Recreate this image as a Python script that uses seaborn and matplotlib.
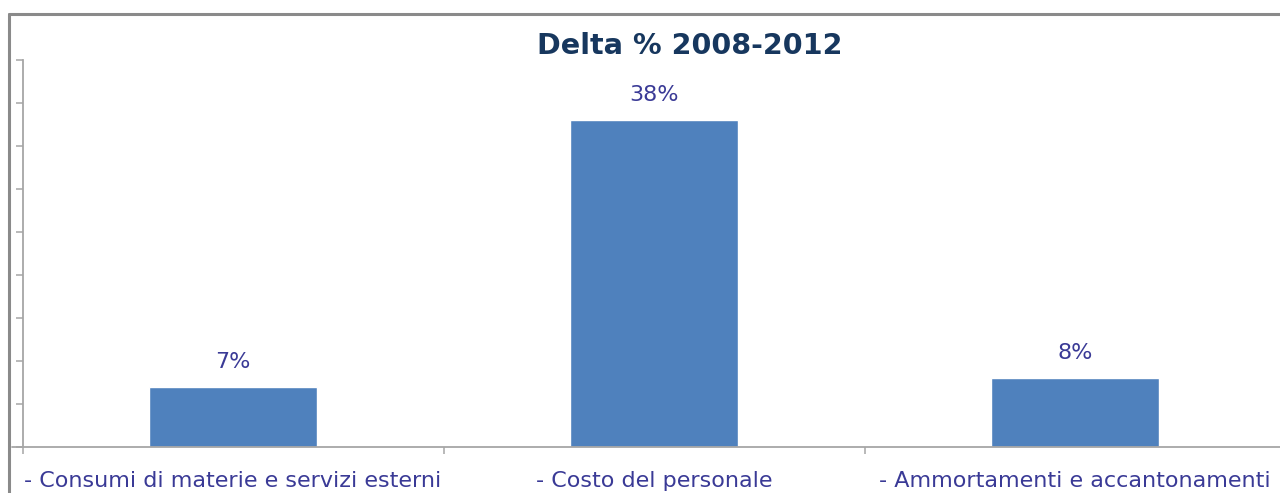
import matplotlib
matplotlib.use("Agg")
import matplotlib.pyplot as plt
from matplotlib.lines import Line2D
import seaborn as sns
import pandas as pd

# Variazione percentuale 2008-2012 per voce di costo
categories = [
    "- Consumi di materie e servizi esterni",
    "- Costo del personale",
    "- Ammortamenti e accantonamenti",
]
delta_pct = [7, 38, 8]
title = "Delta % 2008-2012"

df = pd.DataFrame({"voce": categories, "delta": delta_pct})

sns.set_theme(style="white")
plt.rcParams["font.family"] = ["DejaVu Sans"]

BAR = "#4F81BD"
LABEL = "#3A3A96"
TITLE = "#17375E"
AXIS = "#A6A6A6"

fig = plt.figure(figsize=(12.8, 4.93), dpi=100)
ax = fig.add_axes([22.5 / 1280, 1 - 447 / 493, 1263 / 1280, (447 - 60) / 493])

sns.barplot(data=df, x="voce", y="delta", color=BAR, saturation=1,
            width=0.397, ax=ax)

ax.set_xlim(-0.5, 2.5)
ax.set_ylim(0, 45)
ax.set_yticks(range(0, 50, 5))
ax.set_yticklabels([])
ax.set_xticks([-0.5, 0.5, 1.5, 2.5], minor=False)
ax.set_xticklabels([])
ax.set_xticks([0, 1, 2], minor=True)
ax.set_xticklabels(categories, minor=True)
ax.set_xlabel("")
ax.set_ylabel("")

for side in ("top", "right"):
    ax.spines[side].set_visible(False)
for side in ("left", "bottom"):
    ax.spines[side].set_color(AXIS)
    ax.spines[side].set_linewidth(1.3)

ax.tick_params(axis="y", which="major", direction="out", length=5,
               width=1.1, color=AXIS, left=True)
ax.tick_params(axis="x", which="major", direction="out", length=5,
               width=1.1, color=AXIS, bottom=True)
ax.tick_params(axis="x", which="minor", length=0, pad=17.5,
               labelsize=16, labelcolor=LABEL)

# asse x prolungato a sinistra dell'asse y
ax.axhline(0, xmin=-0.008, xmax=0, color=AXIS, lw=1.3, clip_on=False)

for bar, v in zip(ax.patches, delta_pct):
    ax.annotate(f"{v}%", (bar.get_x() + bar.get_width() / 2, v),
                xytext=(0, 11), textcoords="offset points",
                ha="center", va="bottom", fontsize=16, color=LABEL)

fig.text(690 / 1280, 1 - 46 / 493, title, ha="center", va="center",
         fontsize=20.6, fontweight="bold", color=TITLE)

# cornice grigia
fig.add_artist(Line2D([9 / 1280, 1], [1 - 14 / 493, 1 - 14 / 493],
                      color="#8A8A8A", lw=2.2))
fig.add_artist(Line2D([9 / 1280, 9 / 1280], [0, 1 - 14 / 493],
                      color="#8A8A8A", lw=2.2))

fig.savefig("out.png", dpi=100)
